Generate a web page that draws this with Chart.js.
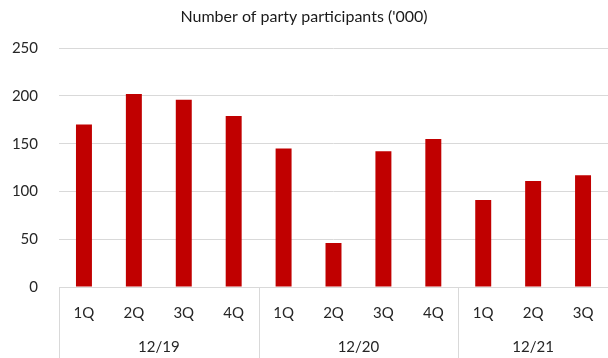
<!DOCTYPE html>
<html>
<head>
<meta charset="utf-8">
<script src="https://cdn.jsdelivr.net/npm/chart.js@4"></script>
<style>
  html, body { margin: 0; padding: 0; background: #fff; }
  #wrap { width: 608px; height: 358px; }
</style>
</head>
<body>
<div id="wrap"><canvas id="participantsChart"></canvas></div>
<script>
const quarters = ['1Q', '2Q', '3Q', '4Q', '1Q', '2Q', '3Q', '4Q', '1Q', '2Q', '3Q'];
const years = ['12/19', '12/20', '12/21'];
const quartersPerYear = [4, 4, 3];
const participants = [170, 202, 196, 179, 145, 46, 142, 155, 91, 111, 117];
const yTicks = [0, 50, 100, 150, 200, 250];

const fontFamily = 'Lato, "Open Sans", sans-serif';
const gridColor = '#d9d9d9';

// draws the year row and the group separators under the x axis
const groupLabels = {
    id: 'groupLabels',
    afterDraw(chart) {
        const ctx = chart.ctx;
        const x = chart.scales.x;
        const top = chart.chartArea.bottom;
        const bottom = chart.height;
        const half = (x.getPixelForValue(1) - x.getPixelForValue(0)) / 2;
        ctx.save();
        ctx.strokeStyle = gridColor;
        ctx.lineWidth = 1;
        ctx.fillStyle = '#262626';
        ctx.font = '15px ' + fontFamily;
        ctx.textAlign = 'center';
        ctx.textBaseline = 'middle';
        let start = 0;
        years.forEach((year, i) => {
            const end = start + quartersPerYear[i] - 1;
            const left = x.getPixelForValue(start) - half;
            const right = x.getPixelForValue(end) + half;
            ctx.beginPath();
            ctx.moveTo(Math.round(left) + 0.5, top);
            ctx.lineTo(Math.round(left) + 0.5, bottom);
            ctx.stroke();
            ctx.fillText(year, (left + right) / 2, top + 60);
            start = end + 1;
        });
        ctx.restore();
    }
};

new Chart(document.getElementById('participantsChart'), {
    type: 'bar',
    data: {
        labels: quarters,
        datasets: [{
            data: participants,
            backgroundColor: '#c00000',
            borderWidth: 0,
            categoryPercentage: 1,
            barPercentage: 0.32
        }]
    },
    options: {
        responsive: true,
        maintainAspectRatio: false,
        animation: false,
        layout: { padding: { left: 0, right: 0, top: 4, bottom: 0 } },
        plugins: {
            legend: { display: false },
            tooltip: { enabled: false },
            title: {
                display: true,
                text: "Number of party participants ('000)",
                color: '#1a1a1a',
                font: { family: fontFamily, size: 16, weight: 'normal' },
                padding: { top: 3, bottom: 22 }
            }
        },
        scales: {
            x: {
                afterFit(axis) { axis.height = 71; },
                grid: { display: false },
                border: { display: true, color: gridColor },
                ticks: {
                    color: '#262626',
                    font: { family: fontFamily, size: 15 },
                    padding: 9,
                    maxRotation: 0,
                    autoSkip: false
                }
            },
            y: {
                min: 0,
                max: 250,
                afterBuildTicks(axis) {
                    axis.ticks = yTicks.map(v => ({ value: v }));
                },
                afterFit(axis) { axis.width = 59; },
                grid: { color: gridColor, drawTicks: false },
                border: { display: false },
                ticks: {
                    color: '#262626',
                    font: { family: fontFamily, size: 15 },
                    padding: 21
                }
            }
        }
    },
    plugins: [groupLabels]
});
</script>
</body>
</html>
